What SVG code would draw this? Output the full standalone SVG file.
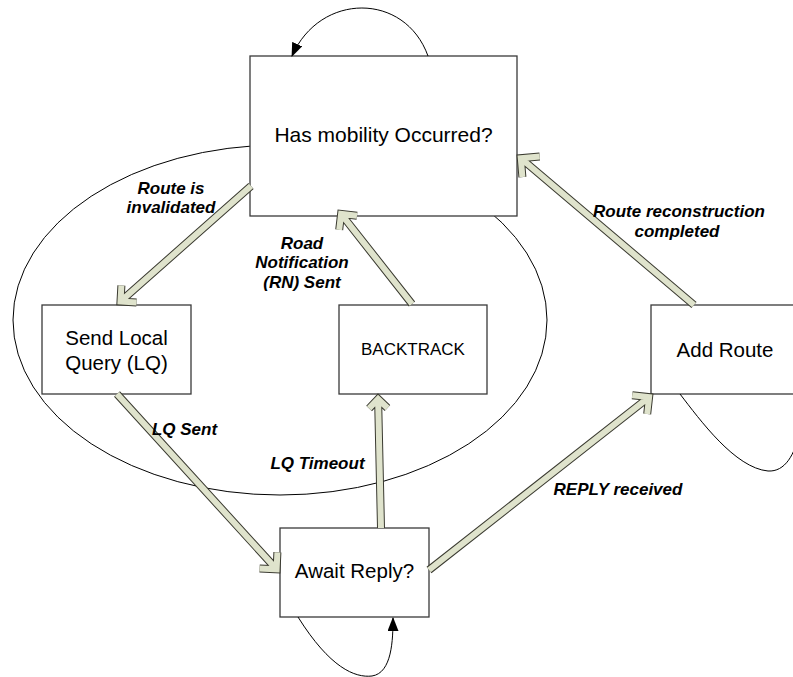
<svg xmlns="http://www.w3.org/2000/svg" width="793" height="677" viewBox="0 0 793 677">
<style>
.box{fill:#fff;stroke:#3a3a3a;stroke-width:1.3}
.t{font-family:"Liberation Sans",Arial,sans-serif;font-size:20.5px;fill:#000;text-anchor:middle}
.lbl{font-family:"Liberation Sans",Arial,sans-serif;font-size:17px;font-weight:bold;font-style:italic;fill:#000;text-anchor:middle}
.ell{fill:none;stroke:#000;stroke-width:1}
.loop{fill:none;stroke:#000;stroke-width:1}
.o{fill:none;stroke:#3a3a30;stroke-width:8;stroke-linejoin:miter;stroke-linecap:butt;stroke-miterlimit:10}
.i{fill:none;stroke:#dfe3cc;stroke-width:6;stroke-linejoin:miter;stroke-linecap:butt;stroke-miterlimit:10}
</style>
<defs>
<marker id="ah" markerUnits="userSpaceOnUse" markerWidth="14" markerHeight="11" refX="13" refY="5.5" orient="auto">
<path d="M0,0 L14,5.5 L0,11 z" fill="#000"/>
</marker>
<path id="aA" d="M251,186 L120.5,301.5 M136.5,302.4 L120.5,301.5 L121.4,285.5"/>
<path id="aB" d="M117,394 L276.6,569.3 M277.4,552.3 L276.6,569.3 L259.6,568.5"/>
<path id="aC" d="M381,528 L378.1,399 M369.1,408.4 L378.1,399 L387.5,408"/>
<path id="aD" d="M412,304 L341.1,213.9 M339.2,229.8 L341.1,213.9 L357,215.8"/>
<path id="aE" d="M694,305 L520.8,158.2 M522.4,177.1 L520.8,158.2 L539.7,156.6"/>
<path id="aF" d="M429,570 L649.1,397.1 M632.2,395.2 L649.1,397.1 L647.2,414"/>
</defs>
<rect width="793" height="677" fill="#fff"/>
<g id="region">
<ellipse class="ell" cx="280" cy="320" rx="267" ry="175"/>
</g>
<g id="node-mobility">
<rect class="box" x="250" y="56" width="267" height="160"/>
<text class="t" x="383.5" y="142" style="font-size:21px">Has mobility Occurred?</text>
</g>
<g id="node-send-lq">
<rect class="box" x="42" y="305" width="149" height="89"/>
<text class="t" x="116.5" y="345">Send Local</text>
<text class="t" x="116.5" y="370">Query (LQ)</text>
</g>
<g id="node-backtrack">
<rect class="box" x="339" y="305" width="148" height="89"/>
<text class="t" x="413" y="355" style="font-size:17px">BACKTRACK</text>
</g>
<g id="node-add-route">
<rect class="box" x="651" y="305" width="149" height="89"/>
<text class="t" x="725" y="357">Add Route</text>
</g>
<g id="node-await">
<rect class="box" x="280" y="528" width="149" height="89"/>
<text class="t" x="354.5" y="578">Await Reply?</text>
</g>
<g id="connectors">
<use href="#aA" class="o"/><use href="#aA" class="i"/>
<use href="#aB" class="o"/><use href="#aB" class="i"/>
<use href="#aC" class="o"/><use href="#aC" class="i"/>
<use href="#aD" class="o"/><use href="#aD" class="i"/>
<use href="#aE" class="o"/><use href="#aE" class="i"/>
<use href="#aF" class="o"/><use href="#aF" class="i"/>
<path class="loop" d="M428,56 C405,-8 320,-8 292,56" marker-end="url(#ah)"/>
<path class="loop" d="M298,617 C330,668 355,678 372,676 C392,673 393,640 393,618" marker-end="url(#ah)"/>
<path class="loop" d="M680,394 C700,420 735,468 768,471 C785,472 795,455 800,430"/>
<text class="lbl" x="171" y="194">Route is</text>
<text class="lbl" x="171" y="213">invalidated</text>
<text class="lbl" x="302" y="249">Road</text>
<text class="lbl" x="302" y="268">Notification</text>
<text class="lbl" x="302" y="288">(RN) Sent</text>
<text class="lbl" x="679" y="217">Route reconstruction</text>
<text class="lbl" x="677" y="237">completed</text>
<text class="lbl" x="184.5" y="435">LQ Sent</text>
<text class="lbl" x="317.5" y="469">LQ Timeout</text>
<text class="lbl" x="618" y="495">REPLY received</text>
</g>
</svg>
